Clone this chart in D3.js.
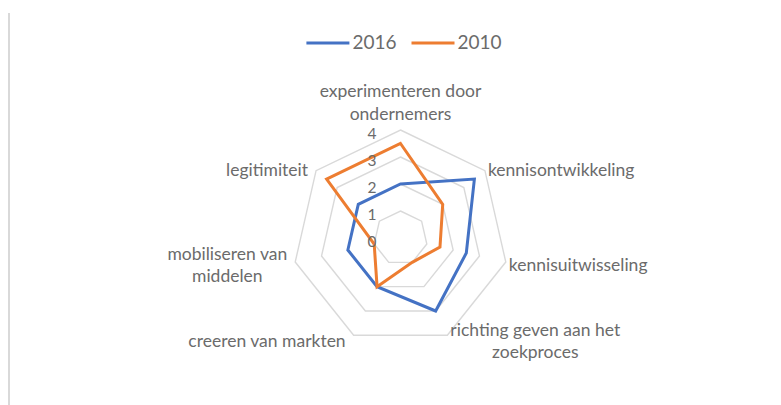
<!DOCTYPE html>
<html>
<head>
<meta charset="utf-8">
<script src="https://cdn.jsdelivr.net/npm/d3@7"></script>
<style>
  body { margin: 0; background: #fff; }
  text { font-family: Lato, "Open Sans", sans-serif; fill: #6b6b6b; }
</style>
</head>
<body>
<div id="radar"></div>
<script>
// chart data
var categories = ["experimenteren door\nondernemers", "kennisontwikkeling", "kennisuitwisseling",
                  "richting geven aan het\nzoekproces", "creeren van markten",
                  "mobiliseren van\nmiddelen", "legitimiteit"]
var values2016 = [2, 3.5, 2.5, 3, 2, 2, 2]
var values2010 = [3.5, 2, 1.5, 1, 2, 1, 3.5]
var seriesNames = ["2016", "2010"]
var tickValues = [0, 1, 2, 3, 4]

var colors = ["#4472C4", "#ED7D31"]

var width = 781,
    height = 405,
    cx = 400.5,
    cy = 238,
    radius = 108

var svg = d3.select("#radar")
  .append("svg")
    .attr("width", width)
    .attr("height", height)

// thin frame line on the left
svg.append("line")
  .attr("x1", 9).attr("x2", 9)
  .attr("y1", 13).attr("y2", height)
  .attr("stroke", "#d9d9d9")
  .attr("stroke-width", 2)

var g = svg.append("g")
  .attr("transform", "translate(" + cx + "," + cy + ")")

var r = d3.scaleLinear().domain([0, 4]).range([0, radius])
var angle = d3.scaleLinear().domain([0, categories.length]).range([0, 2 * Math.PI])

var radial = d3.lineRadial()
  .angle(function(d, i) { return angle(i) })
  .radius(function(d) { return r(d) })
  .curve(d3.curveLinearClosed)

// grid rings
tickValues.filter(function(t) { return t > 0 }).forEach(function(t) {
  g.append("path")
    .attr("d", radial(categories.map(function() { return t })))
    .attr("fill", "none")
    .attr("stroke", "#d9d9d9")
    .attr("stroke-width", 1.4)
})

// series
var series = [values2016, values2010]
series.forEach(function(vals, k) {
  g.append("path")
    .attr("d", radial(vals))
    .attr("fill", "none")
    .attr("stroke", colors[k])
    .attr("stroke-width", 3)
    .attr("stroke-linejoin", "miter")
})

// tick labels
g.selectAll(".tick")
  .data(tickValues)
  .enter()
  .append("text")
    .attr("class", "tick")
    .attr("x", -24)
    .attr("y", function(d) { return -r(d) + 5 })
    .attr("text-anchor", "end")
    .attr("dominant-baseline", "middle")
    .style("font-size", "15.5px")
    .text(function(d) { return d })

// category labels
var lineH = 22.5
categories.forEach(function(name, i) {
  var a = angle(i)
  var s = Math.sin(a), c = Math.cos(a)
  var vx = r(4) * s, vy = -r(4) * c
  var lines = name.split("\n")
  var t = g.append("text").style("font-size", "17.5px")
  var spans = lines.map(function(l) {
    return t.append("tspan").text(l)
  })
  var w = d3.max(spans, function(sp) { return sp.node().getComputedTextLength() })
  var blockH = (lines.length - 1) * lineH
  var x, ycenter
  if (Math.abs(s) < 0.1) {
    x = vx
    ycenter = vy - 14.5 - blockH / 2
  } else if (s > 0) {
    x = vx + 3 + w / 2
    ycenter = vy + 4 - 4 * c
  } else {
    x = vx - 8 - w / 2
    ycenter = vy + 4 - 4 * c
  }
  spans.forEach(function(sp, j) {
    sp.attr("x", x)
      .attr("y", ycenter - blockH / 2 + j * lineH)
  })
  t.attr("text-anchor", "middle").attr("dominant-baseline", "middle")
})

// legend
var legend = svg.append("g")
var lx = 0
seriesNames.forEach(function(name, k) {
  var item = legend.append("g").attr("transform", "translate(" + lx + ",0)")
  item.append("line")
    .attr("x1", 0).attr("x2", 43)
    .attr("y1", 0).attr("y2", 0)
    .attr("stroke", colors[k])
    .attr("stroke-width", 3)
  var txt = item.append("text")
    .attr("x", 46)
    .attr("y", 1)
    .attr("dominant-baseline", "middle")
    .style("font-size", "19px")
    .text(name)
  lx += 46 + txt.node().getComputedTextLength() + 15
})
var legendW = lx - 15
legend.attr("transform", "translate(" + (cx + 3.5 - legendW / 2) + ",43)")
</script>
</body>
</html>
